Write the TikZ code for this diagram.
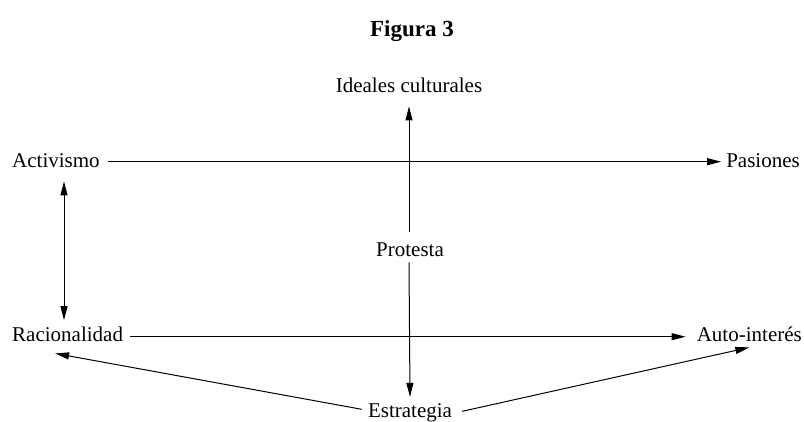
\documentclass[tikz,border=0pt]{standalone}
\usepackage{fontspec}
\setmainfont{Liberation Serif}
\usetikzlibrary{arrows.meta}
\begin{document}
\begin{tikzpicture}[x=1pt,y=-1pt,
  lbl/.style={inner sep=0pt,font=\fontsize{21}{25}\selectfont},
  ttl/.style={inner sep=0pt,font=\fontsize{23}{27}\selectfont\bfseries},
  arr/.style={line width=1pt,-{Triangle[length=14pt,width=7pt]}},
  dbl/.style={line width=1pt,{Triangle[length=14pt,width=7pt]}-{Triangle[length=14pt,width=7pt]}}]
\useasboundingbox (0,0) rectangle (804,421);
\node[ttl,anchor=base] (fig) at (412,36) {Figura 3};
\node[lbl,anchor=base] (ide) at (409,92) {Ideales culturales};
\node[lbl,anchor=base west] (act) at (12,167) {Activismo};
\node[lbl,anchor=base east] (pas) at (800,167) {Pasiones};
\node[lbl,anchor=base] (prot) at (410,256) {Protesta};
\node[lbl,anchor=base west] (rac) at (12,341) {Racionalidad};
\node[lbl,anchor=base east] (aut) at (802,341) {Auto-interés};
\node[lbl,anchor=base] (est) at (410,417) {Estrategia};
% horizontal arrows
\draw[arr] ([xshift=8pt,yshift=3pt]act.mid east) -- ([xshift=-5pt,yshift=3pt]pas.mid west);
\draw[arr] ([xshift=7pt,yshift=2pt]rac.mid east) -- ([xshift=-11pt,yshift=2pt]aut.mid west);
% vertical arrows through Protesta
\draw[arr] ([xshift=-1pt,yshift=10pt]prot.north) -- ([yshift=-14pt]ide.south);
\draw[arr] ([xshift=-1pt,yshift=-6pt]prot.south) -- ([yshift=6pt]est.north);
% double arrow Activismo - Racionalidad
\coordinate (dtop) at ([xshift=52pt,yshift=-14pt]act.south west);
\draw[dbl] (dtop) -- ([yshift=6pt]dtop |- rac.north);
% Estrategia diagonals
\draw[arr] ([xshift=-6pt,yshift=3pt]est.west) -- ([xshift=-12.5pt,yshift=-12pt]rac.south);
\draw[arr] ([xshift=10pt,yshift=1pt]est.east) -- ([yshift=-6pt]aut.south);
\end{tikzpicture}
\end{document}
